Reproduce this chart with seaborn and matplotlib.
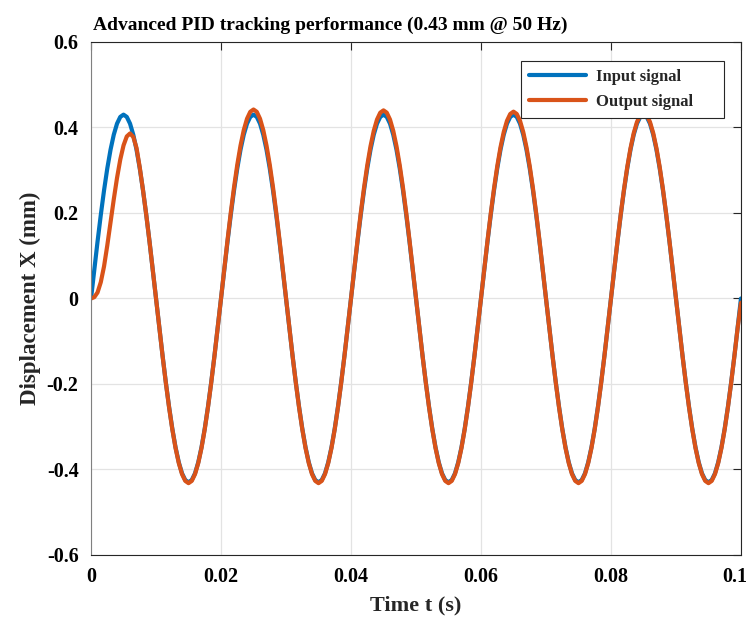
import numpy as np
import pandas as pd
import matplotlib
matplotlib.use("Agg")
import matplotlib.pyplot as plt
import matplotlib.transforms as mtransforms
import seaborn as sns

time_ms_step = 0.0005
n_samples = 201
time_s = [round(i * time_ms_step, 4) for i in range(n_samples)]

input_signal = [
    0.0, 0.0673, 0.1329, 0.1952, 0.2527, 0.3041, 0.3479, 0.3831, 0.4090, 0.4247,
    0.4300, 0.4247, 0.4090, 0.3831, 0.3479, 0.3041, 0.2527, 0.1952, 0.1329, 0.0673,
    0.0, -0.0673, -0.1329, -0.1952, -0.2527, -0.3041, -0.3479, -0.3831, -0.4090, -0.4247,
    -0.4300, -0.4247, -0.4090, -0.3831, -0.3479, -0.3041, -0.2527, -0.1952, -0.1329, -0.0673,
    0.0, 0.0673, 0.1329, 0.1952, 0.2527, 0.3041, 0.3479, 0.3831, 0.4090, 0.4247,
    0.4300, 0.4247, 0.4090, 0.3831, 0.3479, 0.3041, 0.2527, 0.1952, 0.1329, 0.0673,
    0.0, -0.0673, -0.1329, -0.1952, -0.2527, -0.3041, -0.3479, -0.3831, -0.4090, -0.4247,
    -0.4300, -0.4247, -0.4090, -0.3831, -0.3479, -0.3041, -0.2527, -0.1952, -0.1329, -0.0673,
    0.0, 0.0673, 0.1329, 0.1952, 0.2527, 0.3041, 0.3479, 0.3831, 0.4090, 0.4247,
    0.4300, 0.4247, 0.4090, 0.3831, 0.3479, 0.3041, 0.2527, 0.1952, 0.1329, 0.0673,
    0.0, -0.0673, -0.1329, -0.1952, -0.2527, -0.3041, -0.3479, -0.3831, -0.4090, -0.4247,
    -0.4300, -0.4247, -0.4090, -0.3831, -0.3479, -0.3041, -0.2527, -0.1952, -0.1329, -0.0673,
    0.0, 0.0673, 0.1329, 0.1952, 0.2527, 0.3041, 0.3479, 0.3831, 0.4090, 0.4247,
    0.4300, 0.4247, 0.4090, 0.3831, 0.3479, 0.3041, 0.2527, 0.1952, 0.1329, 0.0673,
    0.0, -0.0673, -0.1329, -0.1952, -0.2527, -0.3041, -0.3479, -0.3831, -0.4090, -0.4247,
    -0.4300, -0.4247, -0.4090, -0.3831, -0.3479, -0.3041, -0.2527, -0.1952, -0.1329, -0.0673,
    0.0, 0.0673, 0.1329, 0.1952, 0.2527, 0.3041, 0.3479, 0.3831, 0.4090, 0.4247,
    0.4300, 0.4247, 0.4090, 0.3831, 0.3479, 0.3041, 0.2527, 0.1952, 0.1329, 0.0673,
    0.0, -0.0673, -0.1329, -0.1952, -0.2527, -0.3041, -0.3479, -0.3831, -0.4090, -0.4247,
    -0.4300, -0.4247, -0.4090, -0.3831, -0.3479, -0.3041, -0.2527, -0.1952, -0.1329, -0.0673,
    0.0,
]

output_signal = [
    0.0, 0.003, 0.014, 0.038, 0.075, 0.124, 0.178, 0.232, 0.282, 0.325,
    0.358, 0.379, 0.386, 0.378, 0.352, 0.306, 0.253, 0.1952, 0.1329, 0.0673,
    0.0, -0.0676, -0.1335, -0.1961, -0.2539, -0.3055, -0.3495, -0.3849, -0.4109, -0.4267,
    -0.4320, -0.4267, -0.4109, -0.3849, -0.3495, -0.3055, -0.2539, -0.1961, -0.1335, -0.0676,
    0.0, 0.0692, 0.1366, 0.2006, 0.2598, 0.3126, 0.3576, 0.3938, 0.4204, 0.4366,
    0.4420, 0.4366, 0.4204, 0.3938, 0.3576, 0.3126, 0.2598, 0.2006, 0.1366, 0.0692,
    0.0, -0.0676, -0.1335, -0.1961, -0.2539, -0.3055, -0.3495, -0.3849, -0.4109, -0.4267,
    -0.4320, -0.4267, -0.4109, -0.3849, -0.3495, -0.3055, -0.2539, -0.1961, -0.1335, -0.0676,
    0.0, 0.0689, 0.1360, 0.1997, 0.2586, 0.3112, 0.3560, 0.3920, 0.4185, 0.4346,
    0.4400, 0.4346, 0.4185, 0.3920, 0.3560, 0.3112, 0.2586, 0.1997, 0.1360, 0.0689,
    0.0, -0.0676, -0.1335, -0.1961, -0.2539, -0.3055, -0.3495, -0.3849, -0.4109, -0.4267,
    -0.4320, -0.4267, -0.4109, -0.3849, -0.3495, -0.3055, -0.2539, -0.1961, -0.1335, -0.0676,
    0.0, 0.0684, 0.1351, 0.1984, 0.2568, 0.3091, 0.3536, 0.3893, 0.4157, 0.4316,
    0.4370, 0.4316, 0.4157, 0.3893, 0.3536, 0.3091, 0.2568, 0.1984, 0.1351, 0.0684,
    0.0, -0.0676, -0.1335, -0.1961, -0.2539, -0.3055, -0.3495, -0.3849, -0.4109, -0.4267,
    -0.4320, -0.4267, -0.4109, -0.3849, -0.3495, -0.3055, -0.2539, -0.1961, -0.1335, -0.0676,
    0.0, 0.0679, 0.1341, 0.1970, 0.2550, 0.3069, 0.3511, 0.3867, 0.4128, 0.4286,
    0.4340, 0.4286, 0.4128, 0.3867, 0.3511, 0.3069, 0.2550, 0.1970, 0.1341, 0.0679,
    0.0, -0.0676, -0.1335, -0.1961, -0.2539, -0.3055, -0.3495, -0.3849, -0.4109, -0.4267,
    -0.4320, -0.4267, -0.4109, -0.3849, -0.3495, -0.3055, -0.2539, -0.1961, -0.1335, -0.0676,
    -0.01,
]

series_names = ["Input signal", "Output signal"]
series_colors = ["#0072BD", "#D95319"]
x_ticks = [0, 0.02, 0.04, 0.06, 0.08, 0.1]
x_tick_labels = ["0", "0.02", "0.04", "0.06", "0.08", "0.1"]
y_ticks = [-0.6, -0.4, -0.2, 0, 0.2, 0.4, 0.6]
y_tick_labels = ["-0.6", "-0.4", "-0.2", "0", "0.2", "0.4", "0.6"]

# ---- build table ----
df = pd.concat([
    pd.DataFrame({"t": time_s, "x": input_signal, "signal": series_names[0]}),
    pd.DataFrame({"t": time_s, "x": output_signal, "signal": series_names[1]}),
], ignore_index=True)

sns.set_style("white")
plt.rcParams["font.family"] = ["Liberation Serif", "DejaVu Serif"]
plt.rcParams["font.weight"] = "bold"

fig = plt.figure(figsize=(7.48, 6.17), dpi=100)
ax = fig.add_axes([0.1217, 0.1005, 0.8689, 0.8315])

sns.lineplot(data=df, x="t", y="x", hue="signal", hue_order=series_names,
             palette=dict(zip(series_names, series_colors)),
             linewidth=3.0, estimator=None, sort=False, ax=ax, legend=False)

ax.set_xlim(0, 0.1)
ax.set_ylim(-0.6, 0.6)
ax.set_xticks(x_ticks)
ax.set_xticklabels(x_tick_labels)
ax.set_yticks(y_ticks)
ax.set_yticklabels(y_tick_labels)
ax.grid(True, color="#e3e3e3", linewidth=0.9)
ax.set_axisbelow(True)

for sp in ax.spines.values():
    sp.set_color("#262626")
    sp.set_linewidth(0.8)
ax.spines["left"].set_color("#808080")

ax.tick_params(axis="both", direction="in", length=6, width=0.8,
               top=True, right=True, labelsize=14.5, colors="#262626")
ax.tick_params(axis="x", pad=9)
ax.tick_params(axis="y", pad=9)
for lab in ax.get_xticklabels() + ax.get_yticklabels():
    lab.set_fontweight("bold")
    lab.set_color("black")

# keep the last x tick label inside the figure edge
last = ax.get_xticklabels()[-1]
last.set_transform(last.get_transform() + mtransforms.ScaledTranslation(-6 / 100, 0, fig.dpi_scale_trans))

ax.set_xlabel("Time t (s)", fontsize=16, fontweight="bold", labelpad=6)
ax.set_ylabel("Displacement X (mm)", fontsize=16.5, fontweight="bold", labelpad=4)
ax.set_title("Advanced PID tracking performance (0.43 mm @ 50 Hz)", fontsize=14,
             fontweight="bold", loc="left", pad=9, x=0.003, color="black")

handles = [plt.Line2D([], [], color=c, linewidth=3.0) for c in series_colors]
leg = ax.legend(handles, series_names, loc="upper left",
                bbox_to_anchor=(0.6615, 0.6, 0.3123, 0.363), mode="expand",
                borderaxespad=0.0,
                frameon=True, fancybox=False, edgecolor="#262626", framealpha=1,
                prop={"family": "Liberation Serif", "weight": "bold", "size": 12},
                handlelength=3.4, borderpad=0.5, labelspacing=0.5, handletextpad=0.6)
leg.get_frame().set_linewidth(0.8)

fig.savefig("out.png", dpi=100)
